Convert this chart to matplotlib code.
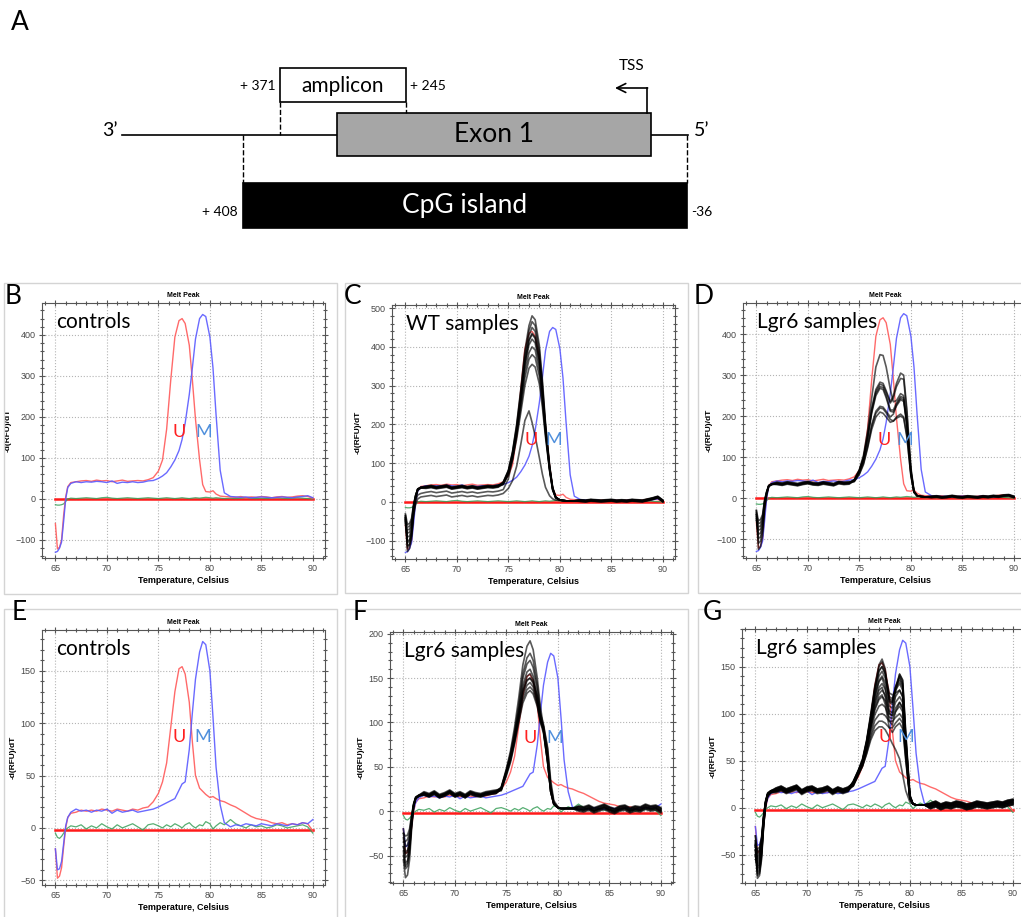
import matplotlib.pyplot as plt
from matplotlib.patches import Rectangle
from matplotlib.ticker import MultipleLocator

plt.rcParams['font.family'] = ['Liberation Sans', 'DejaVu Sans']

W, H = 1021, 917

# ---------------- gene diagram (positions in bp relative to TSS) ----------------
CPG_SPAN = (408, -36)
AMPLICON_SPAN = (371, 245)
EXON1_SPAN = (314, 0)
BACKBONE_SPAN = (529, -37)
TSS_POS = 0

# ---------------- melt curves: temperature grid ----------------
T_START = [65.0, 65.2, 65.4, 65.6, 65.8, 66.0, 66.2, 66.5]
T_PLAT = [67.0, 67.5, 68.0, 68.5, 69.0, 69.5, 70.0, 70.5, 71.0, 71.5, 72.0, 72.5, 73.0, 73.5, 74.0]
T_PEAK = [74.5, 75.0, 75.4, 75.8, 76.2, 76.6, 77.0, 77.3, 77.6, 78.0,
          78.3, 78.6, 79.0, 79.3, 79.6, 80.0, 80.3, 80.6, 81.0, 81.4]
T_TAIL = [82.0, 82.5, 83.0, 83.5, 84.0, 84.5, 85.0, 85.5, 86.0, 86.5,
          87.0, 87.5, 88.0, 88.5, 89.0, 89.5, 90.0]
TEMPS = T_START + T_PLAT + T_PEAK + T_TAIL

# controls, assay 1 (B, C, D)
u1 = [-60, -122, -118, -100, -40, 5, 30, 40,
      42, 44, 45, 43, 46, 44, 45, 42, 44, 46, 43, 44, 45, 44, 47,
      52, 68, 95, 170, 290, 395, 435, 440, 428, 375, 290, 195, 95, 35, 18, 17, 20, 12, 7, 6,
      5, 4, 6, 3, 5, 4, 6, 5, 3, 5, 6, 4, 5, 7, 8, 6, 2]
m1 = [-130, -128, -120, -105, -55, 0, 28, 38,
      42, 40, 42, 41, 43, 42, 40, 44, 38, 41, 40, 42, 40, 41, 44,
      45, 50, 56, 64, 78, 95, 118, 145, 185, 255, 320, 390, 440, 450, 445, 395, 320, 205, 70, 15,
      6, 5, 4, 5, 3, 4, 5, 4, 3, 4, 5, 4, 3, 5, 6, 8, 3]
n1 = [-14, -15, -15, -14, -12, -6, 0, 2,
      1, 2, 3, 2, 1, 3, 4, 2, 1, 2, 3, 2, 1, 2, 3,
      2, 1, 2, 3, 2, 1, 2, 3, 2, 1, 2, 3, 2, 3, 4, 3, 2, 3, 2, 1,
      2, 1, 2, 3, 2, 1, 2, 1, 2, 3, 2, 1, 2, 3, 2, 1, 0]

# controls, assay 2 (E, F, G)
u2 = [-20, -48, -46, -38, -18, 0, 10, 14,
      15, 17, 16, 17, 16, 18, 17, 16, 18, 17, 16, 18, 17, 19, 20,
      25, 33, 44, 62, 96, 130, 152, 154, 147, 120, 82, 50, 38, 35, 32, 29, 30, 28, 26, 25,
      22, 20, 17, 14, 11, 9, 8, 7, 5, 4, 5, 3, 4, 3, 5, 4, -3]
m2 = [-20, -40, -39, -32, -15, 2, 10, 15,
      18, 16, 17, 15, 17, 16, 18, 14, 17, 15, 16, 17, 15, 16, 17,
      18, 20, 22, 24, 26, 28, 36, 42, 44, 75, 110, 142, 168, 178, 175, 150, 106, 58, 22, 5,
      1, 3, 2, 4, 3, 2, 4, 3, 2, 4, 3, 2, 4, 3, 5, 4, 8]
n2 = [-5, -9, -10, -8, -5, -2, 0, 2,
      1, 3, -1, 2, 0, 4, 1, -1, 3, 0, 2, 4, 1, -2, 3,
      4, 2, 0, 3, 1, 4, 2, 0, 3, 5, 2, 0, 3, 2, 6, 4, -1, 2, 5, 3,
      8, 4, 2, 0, 3, 1, 2, 0, 1, 3, 2, 0, 1, 2, 3, 1, -5]

# C: WT samples
c_starts = [[-35, -128, -120, -95, -30, 10, 30, 36],
            [-40, -112, -110, -85, -25, 12, 32, 38],
            [-45, -100, -98, -75, -20, 14, 33, 37],
            [-50, -90, -88, -70, -15, 15, 33, 38],
            [-55, -80, -78, -62, -12, 16, 34, 37],
            [-60, -72, -70, -55, -10, 17, 34, 38],
            [-40, -65, -62, -48, -8, 18, 33, 36],
            [-30, -58, -55, -42, -5, 18, 32, 36],
            [-45, -105, -100, -80, -28, 5, 18, 22],
            [-35, -118, -110, -88, -35, -5, 8, 13]]
c_levels = [38, 40, 36, 39, 37, 41, 35, 38, 25, 15]
c_wiggle = [0, 2, -1, 1, 3, -2, 0, 2, -1, 1, -2, 0, 2, 1, 3]
c_peaks = [[52, 82, 130, 200, 290, 390, 455, 480, 470, 405, 315, 205, 95, 38, 13, 5, 4, 3, 3, 3],
           [50, 80, 128, 196, 284, 380, 442, 465, 455, 392, 305, 200, 92, 36, 12, 5, 4, 3, 3, 3],
           [50, 80, 125, 190, 275, 370, 430, 450, 440, 380, 295, 195, 90, 35, 12, 5, 4, 3, 3, 3],
           [48, 78, 122, 186, 268, 360, 418, 435, 425, 368, 285, 190, 88, 34, 12, 5, 4, 3, 3, 3],
           [48, 76, 120, 182, 262, 350, 405, 420, 410, 355, 278, 185, 86, 33, 11, 5, 4, 3, 3, 3],
           [46, 74, 116, 176, 252, 335, 385, 400, 392, 340, 268, 180, 84, 32, 11, 5, 4, 3, 3, 3],
           [46, 72, 112, 170, 242, 320, 368, 380, 372, 325, 258, 175, 82, 31, 11, 5, 4, 3, 3, 3],
           [45, 70, 108, 162, 230, 300, 345, 355, 348, 305, 245, 168, 80, 30, 10, 5, 4, 3, 3, 3],
           [32, 60, 110, 180, 265, 358, 416, 432, 422, 365, 283, 188, 87, 34, 12, 5, 4, 3, 3, 3],
           [22, 35, 55, 92, 148, 210, 235, 205, 170, 115, 72, 38, 16, 8, 5, 4, 3, 3, 3, 3]]
c_tail = [3, 2, 4, 3, 2, 3, 4, 2, 3, 2, 4, 3, 2, 5, 8, 12, 2]
c_shift = [0, 2, -1, 1, -2, 3, 0, -1, 2, 1]

# D: Lgr6 samples, assay 1
d_starts = [[-30, -125, -118, -92, -30, 8, 28, 33],
            [-40, -110, -105, -80, -22, 10, 29, 34],
            [-45, -98, -95, -72, -18, 12, 30, 35],
            [-50, -88, -85, -66, -14, 13, 30, 34],
            [-55, -78, -76, -58, -10, 14, 31, 35],
            [-35, -70, -68, -52, -8, 15, 31, 34],
            [-40, -62, -60, -45, -6, 16, 30, 33],
            [-30, -55, -52, -40, -4, 16, 30, 35]]
d_levels = [35, 33, 36, 34, 37, 32, 35, 38]
d_wiggle = [1, -1, 2, 0, -2, 1, 3, 0, -1, 2, 0, -2, 3, 1, 2]
d_peaks = [[45, 70, 105, 165, 245, 320, 350, 348, 320, 265, 235, 238, 255, 250, 180, 60, 15, 6, 4, 3],
           [45, 68, 100, 155, 220, 265, 283, 280, 262, 235, 250, 280, 305, 300, 220, 75, 18, 6, 4, 3],
           [44, 67, 98, 150, 215, 260, 278, 275, 258, 232, 245, 272, 292, 290, 210, 70, 17, 6, 4, 3],
           [43, 66, 96, 148, 212, 255, 272, 270, 250, 215, 215, 232, 248, 245, 185, 65, 16, 6, 4, 3],
           [42, 65, 95, 145, 208, 250, 268, 265, 245, 212, 210, 225, 240, 236, 178, 62, 15, 6, 4, 3],
           [42, 62, 88, 130, 180, 212, 224, 222, 212, 198, 205, 228, 244, 240, 185, 65, 16, 6, 4, 3],
           [41, 60, 85, 126, 175, 207, 220, 218, 208, 192, 188, 195, 200, 195, 150, 55, 14, 6, 4, 3],
           [40, 58, 82, 122, 168, 198, 210, 207, 198, 185, 188, 198, 205, 198, 155, 55, 14, 6, 4, 3]]
d_tail = [3, 4, 2, 3, 5, 3, 2, 4, 3, 2, 4, 3, 5, 4, 6, 7, 3]
d_shift = [0, 1, -1, 2, -2, 1, 0, -1]

# F: Lgr6 samples, assay 2
f_starts = [[-55, -75, -72, -55, -20, 5, 14, 17],
            [-45, -65, -62, -48, -16, 6, 14, 17],
            [-40, -58, -56, -42, -14, 6, 15, 18],
            [-30, -52, -50, -38, -12, 7, 15, 17],
            [-25, -46, -44, -34, -10, 7, 15, 18],
            [-20, -40, -38, -28, -8, 8, 16, 18],
            [-35, -34, -32, -24, -6, 8, 15, 17],
            [-50, -62, -58, -42, -14, 6, 14, 17],
            [-25, -28, -27, -20, -4, 9, 16, 18],
            [-40, -48, -46, -35, -11, 7, 15, 17]]
f_levels = [18, 17, 19, 18, 16, 20, 17, 19, 18, 16]
f_wiggle = [2, 0, 3, -1, 1, 4, 0, 2, -1, 3, 1, 0, 2, 3, 4]
f_peaks = [[27, 48, 68, 95, 128, 165, 186, 192, 182, 150, 118, 95, 58, 23, 8, 4, 3, 3, 3, 3],
           [27, 46, 65, 90, 120, 155, 173, 178, 170, 142, 112, 92, 56, 22, 8, 4, 3, 3, 3, 3],
           [26, 46, 64, 88, 116, 150, 166, 170, 162, 136, 108, 90, 55, 22, 8, 4, 3, 3, 3, 3],
           [26, 45, 62, 85, 112, 142, 157, 160, 152, 128, 105, 90, 55, 22, 8, 4, 3, 3, 3, 3],
           [25, 44, 60, 83, 110, 138, 152, 155, 148, 126, 104, 92, 60, 25, 9, 4, 3, 3, 3, 3],
           [25, 43, 59, 81, 107, 134, 147, 150, 144, 124, 103, 95, 65, 28, 10, 4, 3, 3, 3, 3],
           [24, 42, 58, 80, 105, 130, 142, 145, 140, 122, 102, 96, 70, 30, 10, 4, 3, 3, 3, 3],
           [24, 42, 57, 78, 102, 126, 137, 140, 136, 120, 100, 92, 62, 26, 9, 4, 3, 3, 3, 3],
           [23, 40, 55, 76, 100, 122, 133, 136, 132, 118, 100, 88, 56, 22, 8, 4, 3, 3, 3, 3],
           [25, 44, 60, 82, 108, 135, 148, 150, 146, 130, 110, 98, 72, 35, 12, 5, 3, 3, 3, 3]]
f_tail = [3, 2, 4, 1, 3, 5, 2, 0, 3, 4, 1, 3, 2, 5, 3, 4, 1]
f_shift = [0, 2, -2, 1, -1, 3, 0, -3, 2, -1]

# G: Lgr6 samples, assay 2 (second set)
g_starts = [[-45, -75, -72, -55, -20, 3, 12, 16],
            [-40, -70, -68, -50, -18, 4, 13, 17],
            [-50, -66, -63, -47, -16, 5, 13, 16],
            [-35, -62, -60, -44, -14, 5, 14, 17],
            [-55, -58, -56, -41, -12, 6, 14, 17],
            [-40, -54, -52, -38, -11, 6, 15, 18],
            [-30, -50, -48, -35, -10, 7, 15, 17],
            [-45, -46, -45, -33, -9, 7, 15, 18],
            [-35, -72, -70, -52, -19, 4, 13, 16],
            [-50, -64, -61, -46, -15, 5, 14, 17],
            [-40, -56, -54, -40, -12, 6, 14, 17],
            [-30, -48, -46, -34, -10, 7, 15, 18],
            [-45, -68, -66, -49, -17, 4, 13, 16],
            [-38, -60, -58, -43, -13, 5, 14, 17],
            [-52, -52, -50, -37, -11, 6, 15, 18],
            [-42, -44, -42, -31, -8, 8, 16, 18]]
g_levels = [18, 17, 19, 16, 18, 20, 17, 19, 16, 18, 17, 19, 15, 20, 18, 17]
g_wiggle = [1, 3, 0, 2, 4, -1, 2, 3, 0, 1, 3, -1, 2, 0, 2]
g_peaks = [[28, 40, 52, 72, 100, 130, 152, 158, 148, 115, 112, 128, 140, 132, 75, 12, 4, 3, 3, 3],
           [28, 40, 51, 71, 98, 128, 150, 155, 145, 112, 110, 128, 142, 135, 78, 13, 4, 3, 3, 3],
           [27, 39, 50, 70, 96, 125, 145, 150, 142, 116, 114, 128, 138, 130, 72, 12, 4, 3, 3, 3],
           [27, 39, 50, 69, 95, 122, 140, 145, 138, 118, 116, 125, 132, 125, 70, 12, 4, 3, 3, 3],
           [26, 38, 49, 68, 93, 119, 135, 140, 133, 113, 112, 126, 135, 128, 72, 12, 4, 3, 3, 3],
           [26, 38, 48, 66, 90, 114, 128, 132, 126, 108, 106, 118, 125, 118, 66, 11, 4, 3, 3, 3],
           [25, 37, 47, 65, 87, 109, 121, 125, 120, 103, 101, 112, 118, 112, 62, 11, 4, 3, 3, 3],
           [25, 37, 47, 64, 85, 104, 115, 118, 114, 100, 98, 106, 112, 106, 60, 10, 4, 3, 3, 3],
           [24, 36, 46, 62, 82, 99, 108, 110, 107, 96, 95, 102, 108, 102, 58, 10, 4, 3, 3, 3],
           [24, 36, 45, 60, 78, 93, 99, 100, 98, 92, 92, 96, 100, 95, 55, 10, 4, 3, 3, 3],
           [23, 35, 44, 58, 75, 87, 92, 92, 90, 85, 85, 90, 95, 90, 52, 10, 4, 3, 3, 3],
           [23, 35, 44, 57, 72, 82, 86, 86, 83, 75, 68, 62, 52, 35, 18, 6, 4, 3, 3, 3],
           [27, 39, 50, 70, 97, 126, 146, 150, 143, 122, 120, 122, 125, 118, 65, 11, 4, 3, 3, 3],
           [26, 38, 49, 67, 92, 118, 134, 138, 128, 100, 98, 122, 142, 136, 80, 14, 4, 3, 3, 3],
           [26, 38, 48, 66, 89, 112, 125, 128, 118, 92, 88, 102, 112, 106, 62, 11, 4, 3, 3, 3],
           [25, 37, 47, 64, 86, 106, 117, 120, 110, 85, 80, 86, 90, 84, 50, 9, 4, 3, 3, 3]]
g_tail = [2, 4, 1, 3, 2, 4, 3, 1, 2, 4, 3, 2, 3, 4, 3, 5, 6]
g_shift = [0, 2, -2, 3, -1, 1, -3, 2, 0, -2, 3, 1, -1, 2, -3, 0]


def build(starts, levels, wiggle, peaks, tail, shifts):
    out = []
    for st, lv, pk, sh in zip(starts, levels, peaks, shifts):
        out.append(st + [lv + w for w in wiggle] + pk + [t + sh for t in tail])
    return out


fig = plt.figure(figsize=(W / 100, H / 100), dpi=100)


def px_axes(x0, y0, x1, y1):
    return fig.add_axes([x0 / W, 1 - y1 / H, (x1 - x0) / W, (y1 - y0) / H])


def frame(x0, y0, x1, y1):
    fig.add_artist(Rectangle((x0 / W, 1 - y1 / H), (x1 - x0) / W, (y1 - y0) / H,
                             transform=fig.transFigure, fill=False, ec='#d4d4d4', lw=1.0))


# ---------------- panel A ----------------
ax0 = fig.add_axes([0, 1 - 250 / H, 1, 250 / H])
ax0.set_xlim(651, 651 - W)
ax0.set_ylim(250, 0)
ax0.axis('off')
ax0.plot(BACKBONE_SPAN, [135, 135], color='black', lw=1.2, zorder=1)
ax0.add_patch(Rectangle((EXON1_SPAN[1], 113), EXON1_SPAN[0] - EXON1_SPAN[1], 43,
                        fc='#a6a6a6', ec='black', lw=1.2, zorder=2))
ax0.text(sum(EXON1_SPAN) / 2, 135, 'Exon 1', family='Lato', fontsize=19, ha='center', va='center')
ax0.add_patch(Rectangle((AMPLICON_SPAN[1], 68), AMPLICON_SPAN[0] - AMPLICON_SPAN[1], 34,
                        fc='white', ec='black', lw=1.2, zorder=2))
ax0.text(sum(AMPLICON_SPAN) / 2, 86, 'amplicon', family='Lato', fontsize=15, ha='center', va='center')
ax0.plot([AMPLICON_SPAN[0]] * 2, [102, 135], color='black', lw=1.0, ls='--')
ax0.plot([AMPLICON_SPAN[1]] * 2, [102, 113], color='black', lw=1.0, ls='--')
ax0.text(AMPLICON_SPAN[0] + 4, 86, '+ %d' % AMPLICON_SPAN[0], family='Lato', fontsize=10,
         ha='right', va='center')
ax0.text(AMPLICON_SPAN[1] - 4, 86, '+ %d' % AMPLICON_SPAN[1], family='Lato', fontsize=10,
         ha='left', va='center')
ax0.add_patch(Rectangle((CPG_SPAN[1], 183), CPG_SPAN[0] - CPG_SPAN[1], 45,
                        fc='black', ec='black', lw=1.2, zorder=2))
ax0.text(sum(CPG_SPAN) / 2, 206, 'CpG island', family='Lato', fontsize=19, color='white',
         ha='center', va='center')
ax0.plot([CPG_SPAN[0]] * 2, [135, 183], color='black', lw=1.0, ls='--')
ax0.plot([CPG_SPAN[1]] * 2, [135, 183], color='black', lw=1.0, ls='--')
ax0.text(CPG_SPAN[0] + 5, 212, '+ %d' % CPG_SPAN[0], family='Lato', fontsize=10, ha='right', va='center')
ax0.text(CPG_SPAN[1] - 4, 212, '%d' % CPG_SPAN[1], family='Lato', fontsize=10, ha='left', va='center')
ax0.text(BACKBONE_SPAN[0] + 4, 131, '3\u2019', family='Lato', fontsize=14, ha='right', va='center')
ax0.text(BACKBONE_SPAN[1] - 6, 131, '5\u2019', family='Lato', fontsize=14, ha='left', va='center')
ax0.plot([TSS_POS + 4, TSS_POS + 4], [113, 88], color='black', lw=1.2)
ax0.annotate('', xy=(TSS_POS + 36, 88), xytext=(TSS_POS + 3.4, 88),
             arrowprops=dict(arrowstyle='->', lw=1.2, color='black', mutation_scale=16,
                             shrinkA=0, shrinkB=0))
ax0.text(TSS_POS + 19, 66, 'TSS', family='Lato', fontsize=11, ha='center', va='center')
fig.text(20 / W, 1 - 22 / H, 'A', family='Lato', fontsize=19, ha='center', va='center')


# ---------------- melt peak panels ----------------
def melt_panel(box, fr, letter, letter_xy, ylim, ymaj, ymin, thresh, ctrl, samples, tag, u_xy, m_xy):
    frame(*fr)
    ax = px_axes(*box)
    ax.set_xlim(63.7, 63.7 + (box[2] - box[0]) / 10.3)
    ax.set_ylim(*ylim)
    ax.xaxis.set_major_locator(MultipleLocator(5))
    ax.xaxis.set_minor_locator(MultipleLocator(1))
    ax.yaxis.set_major_locator(MultipleLocator(ymaj))
    ax.yaxis.set_minor_locator(MultipleLocator(ymin))
    ax.grid(which='major', ls=':', lw=0.8, color='#b4b4b4')
    ax.tick_params(which='both', direction='inout', top=True, right=True, color='#555555',
                   labelsize=6.5, labelcolor='#484848', width=0.8, pad=2)
    ax.tick_params(which='major', length=5)
    ax.tick_params(which='minor', length=3)
    for s in ax.spines.values():
        s.set_color('#555555')
        s.set_linewidth(0.8)
    ax.set_title('Melt Peak', fontsize=5, fontweight='bold', pad=4)
    ax.set_xlabel('Temperature, Celsius', fontsize=6.5, fontweight='bold', labelpad=2)
    ax.set_ylabel('-d(RFU)/dT', fontsize=6, fontweight='bold', labelpad=3)

    ax.plot([TEMPS[0], TEMPS[-1]], [thresh, thresh], color='#ff1a1a', lw=1.8, zorder=2)
    u, m, n = ctrl
    ax.plot(TEMPS, n, color='#3aa05a', lw=0.9, alpha=0.85, zorder=3)
    ax.plot(TEMPS, u, color='#ff5a5a', lw=1.0, alpha=0.9, zorder=3)
    ax.plot(TEMPS, m, color='#5a5aff', lw=1.0, alpha=0.9, zorder=3)
    for s in samples:
        ax.plot(TEMPS, s, color='black', lw=1.2, alpha=0.65, zorder=4)

    ax.text(0.05, 0.925, tag, transform=ax.transAxes, family='Lato', fontsize=15,
            ha='left', va='center', zorder=6)
    ax.text(u_xy[0], u_xy[1], 'U', family='Lato', fontsize=13, color='#ff2020',
            ha='center', va='center', zorder=6)
    ax.text(m_xy[0], m_xy[1], 'M', family='Lato', fontsize=13, color='#4f8fdc',
            ha='center', va='center', zorder=6)
    fig.text(letter_xy[0] / W, 1 - letter_xy[1] / H, letter, family='Lato', fontsize=19,
             ha='center', va='center')
    return ax


ctrl1 = (u1, m1, n1)
ctrl2 = (u2, m2, n2)

melt_panel((42, 303, 325, 558), (4, 283, 337, 594), 'B', (13, 297), (-144, 478), 100, 20, 0,
           ctrl1, [], 'controls', (77.05, 163), (79.4, 163))
melt_panel((392, 305, 675, 559), (345, 283, 688, 593), 'C', (353, 297), (-147, 508), 100, 20, 0,
           ctrl1, build(c_starts, c_levels, c_wiggle, c_peaks, c_tail, c_shift),
           'WT samples', (77.25, 160), (79.4, 160))
melt_panel((743, 303, 1028, 558), (698, 283, 1030, 593), 'D', (704, 297), (-146, 476), 100, 20, 0,
           ctrl1, build(d_starts, d_levels, d_wiggle, d_peaks, d_tail, d_shift),
           'Lgr6 samples', (77.4, 141), (79.4, 141))
melt_panel((42, 630, 325, 885), (4, 609, 337, 925), 'E', (19, 612), (-54.5, 189), 50, 10, -2,
           ctrl2, [], 'controls', (77.05, 87), (79.3, 87))
melt_panel((390, 632, 673, 883), (345, 609, 688, 925), 'F', (360, 613), (-81, 202), 50, 10, -2,
           ctrl2, build(f_starts, f_levels, f_wiggle, f_peaks, f_tail, f_shift),
           'Lgr6 samples', (77.3, 83), (79.7, 83))
melt_panel((742, 629, 1027, 883), (698, 609, 1030, 925), 'G', (712, 613), (-80, 190), 50, 10, -2,
           ctrl2, build(g_starts, g_levels, g_wiggle, g_peaks, g_tail, g_shift),
           'Lgr6 samples', (77.6, 75), (79.6, 75))

fig.savefig('out.png', dpi=100, facecolor='white')
